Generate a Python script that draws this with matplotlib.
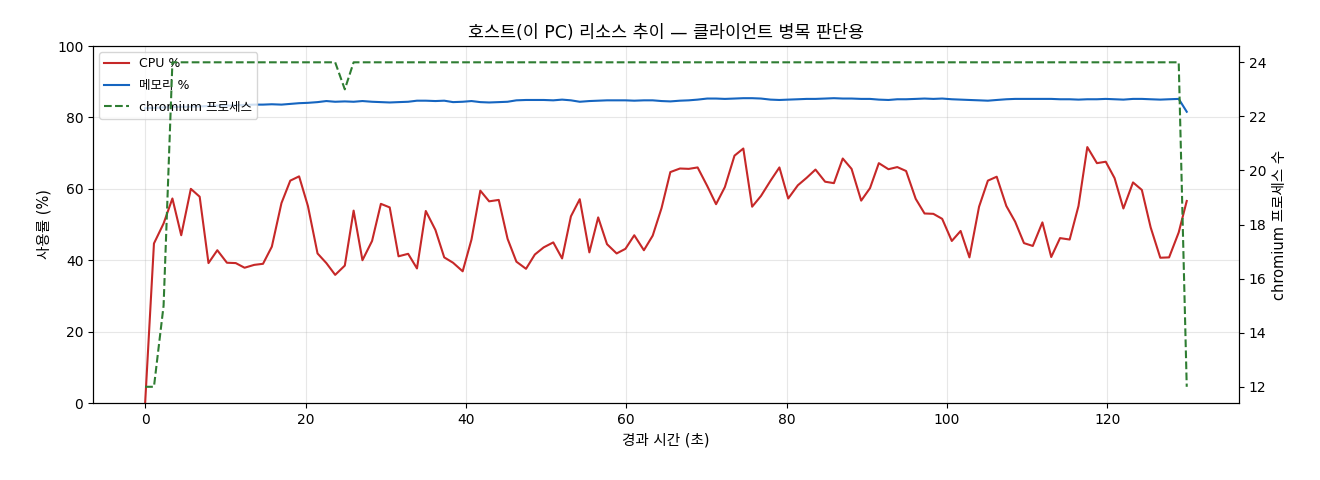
import numpy as np
import matplotlib
matplotlib.use('Agg')
import matplotlib.pyplot as plt

plt.rcParams['font.family'] = ['DejaVu Sans', 'Noto Sans CJK KR']
plt.rcParams['axes.unicode_minus'] = False

# elapsed seconds of each sample
elapsed = [0.0, 1.1, 2.3, 3.4, 4.5, 5.7, 6.8, 7.9, 9.0, 10.2,
           11.3, 12.4, 13.6, 14.7, 15.8, 17.0, 18.1, 19.2, 20.3, 21.5,
           22.6, 23.7, 24.9, 26.0, 27.1, 28.3, 29.4, 30.5, 31.6, 32.8,
           33.9, 35.0, 36.2, 37.3, 38.4, 39.6, 40.7, 41.8, 42.9, 44.1,
           45.2, 46.3, 47.5, 48.6, 49.7, 50.9, 52.0, 53.1, 54.2, 55.4,
           56.5, 57.6, 58.8, 59.9, 61.0, 62.2, 63.3, 64.4, 65.5, 66.7,
           67.8, 68.9, 70.1, 71.2, 72.3, 73.5, 74.6, 75.7, 76.8, 78.0,
           79.1, 80.2, 81.4, 82.5, 83.6, 84.8, 85.9, 87.0, 88.1, 89.3,
           90.4, 91.5, 92.7, 93.8, 94.9, 96.1, 97.2, 98.3, 99.4, 100.6,
           101.7, 102.8, 104.0, 105.1, 106.2, 107.4, 108.5, 109.6, 110.7, 111.9,
           113.0, 114.1, 115.3, 116.4, 117.5, 118.7, 119.8, 120.9, 122.0, 123.2,
           124.3, 125.4, 126.6, 127.7, 128.9, 129.9]

cpu = [0.0, 44.7, 50.3, 57.3, 47.0, 60.0, 57.8, 39.2, 42.8, 39.3,
       39.2, 37.9, 38.7, 39.0, 43.8, 56.0, 62.3, 63.5, 55.2, 41.9,
       39.2, 35.9, 38.5, 53.9, 40.0, 45.4, 55.8, 54.8, 41.1, 41.8,
       37.7, 53.8, 48.5, 40.8, 39.3, 36.9, 45.8, 59.5, 56.5, 56.9,
       46.0, 39.6, 37.6, 41.6, 43.6, 45.0, 40.5, 52.3, 57.1, 42.2,
       52.0, 44.5, 41.9, 43.2, 47.0, 42.8, 46.9, 54.6, 64.7, 65.7,
       65.6, 66.0, 60.8, 55.7, 60.5, 69.3, 71.3, 55.0, 58.0, 62.3,
       66.0, 57.3, 61.0, 63.1, 65.4, 62.0, 61.6, 68.5, 65.6, 56.7,
       60.2, 67.2, 65.5, 66.1, 65.0, 57.2, 53.1, 53.0, 51.6, 45.4,
       48.2, 40.8, 55.0, 62.3, 63.4, 55.2, 50.8, 44.8, 44.0, 50.6,
       40.9, 46.2, 45.8, 55.2, 71.7, 67.2, 67.6, 63.0, 54.5, 61.8,
       59.7, 49.2, 40.7, 40.8, 47.8, 56.6]

mem = [82.6, 82.7, 82.8, 82.9, 83.0, 83.0, 83.1, 83.2, 83.3, 83.3,
       83.4, 83.5, 83.6, 83.6, 83.7, 83.6, 83.8, 84.0, 84.1, 84.3,
       84.6, 84.4, 84.5, 84.4, 84.6, 84.4, 84.3, 84.2, 84.3, 84.4,
       84.7, 84.7, 84.6, 84.7, 84.3, 84.4, 84.6, 84.3, 84.2, 84.3,
       84.4, 84.8, 84.9, 84.9, 84.9, 84.8, 85.0, 84.8, 84.4, 84.6,
       84.7, 84.8, 84.8, 84.8, 84.7, 84.8, 84.8, 84.6, 84.5, 84.7,
       84.8, 85.0, 85.3, 85.3, 85.2, 85.3, 85.4, 85.4, 85.3, 85.0,
       84.9, 85.0, 85.1, 85.2, 85.2, 85.3, 85.4, 85.3, 85.3, 85.2,
       85.2, 85.0, 84.9, 85.1, 85.1, 85.2, 85.3, 85.2, 85.3, 85.1,
       85.0, 84.9, 84.8, 84.7, 84.9, 85.1, 85.2, 85.2, 85.2, 85.2,
       85.2, 85.1, 85.1, 85.0, 85.1, 85.1, 85.2, 85.1, 85.0, 85.2,
       85.2, 85.1, 85.0, 85.1, 85.2, 81.6]

chromium = [12, 12, 15] + [24] * 19 + [23] + [24] * 92 + [12]

fig = plt.figure(figsize=(13.2, 4.8), dpi=100)
ax1 = fig.add_axes([0.0705, 0.1604, 0.868, 0.7436])
ax2 = ax1.twinx()

l1, = ax1.plot(elapsed, cpu, color='#c62828', lw=1.5, label='CPU %')
l2, = ax1.plot(elapsed, mem, color='#1565c0', lw=1.5, label='메모리 %')
l3, = ax2.plot(elapsed, chromium, color='#2e7d32', lw=1.5, ls='--', label='chromium 프로세스')

ax1.set_ylim(0, 100)
ax1.set_xlabel('경과 시간 (초)', fontsize=10.5)
ax1.set_ylabel('사용률 (%)', fontsize=10.5)
ax2.set_ylabel('chromium 프로세스 수', fontsize=10.5)
ax1.tick_params(labelsize=10)
ax2.tick_params(labelsize=10)
ax1.grid(True, alpha=0.3)
ax1.set_title('호스트(이 PC) 리소스 추이 — 클라이언트 병목 판단용', fontsize=12.5)
ax1.legend(handles=[l1, l2, l3], loc='upper left', fontsize=9, labelspacing=0.7)

fig.savefig('out.png', dpi=100)
